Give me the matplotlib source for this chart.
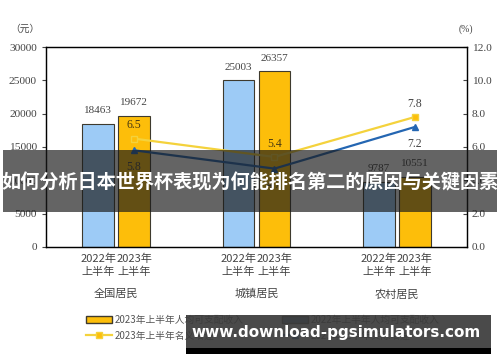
import numpy as np
import matplotlib.pyplot as plt
from matplotlib.patches import Rectangle, Patch
from matplotlib.lines import Line2D

plt.rcParams['font.family'] = ['Liberation Serif', 'Noto Sans CJK SC']

groups = ['全国居民', '城镇居民', '农村居民']
income_2022 = [18463, 25003, 9787]
income_2023 = [19672, 26357, 10551]
nominal_growth = [6.5, 5.4, 7.8]
real_growth = [5.8, 4.7, 7.2]
year_labels = ['2022年\n上半年', '2023年\n上半年']
legend_labels = ['2023年上半年人均可支配收入', '2022年上半年人均可支配收入',
                 '2023年上半年名义增速', '2023年上半年实际增速']
banner_title = '如何分析日本世界杯表现为何能排名第二的原因与关键因素'
watermark = 'www.download-pgsimulators.com'

c_blue = '#9DCBF6'
c_orange = '#FDBE0A'
c_edge = '#3E3A2E'
c_yellow = '#F4D23C'
c_line = '#2466B2'
c_text = '#444444'
cjk = ['Noto Sans CJK SC', 'DejaVu Sans']

fig = plt.figure(figsize=(5, 3.62), dpi=100)
ax = fig.add_axes([0.092, 0.318, 0.842, 0.552])
x = np.arange(len(groups))
w = 0.225
off = 0.128

b1 = ax.bar(x - off, income_2022, w, color=c_blue, edgecolor=c_edge, linewidth=0.8)
b2 = ax.bar(x + off, income_2023, w, color=c_orange, edgecolor=c_edge, linewidth=0.8)
for bars, vals in [(b1, income_2022), (b2, income_2023)]:
    for r, v in zip(bars, vals):
        ax.text(r.get_x() + r.get_width() / 2, v + 1300, str(v), ha='center',
                va='bottom', fontsize=8, color=c_text)

ax.set_xlim(-0.5, 2.5)
ax.set_ylim(0, 30000)
ax.set_yticks(np.arange(0, 30001, 5000))
ax.tick_params(axis='y', labelsize=8.2, length=3, colors=c_text, direction='out')
ax.set_xticks([])
for s in ax.spines.values():
    s.set_linewidth(1.0)
    s.set_color('#222222')

ax2 = ax.twinx()
ax2.set_ylim(0, 12)
ax2.set_yticks(np.arange(0, 12.1, 2))
ax2.set_yticklabels(['%.1f' % t for t in np.arange(0, 12.1, 2)])
ax2.tick_params(axis='y', labelsize=8.2, length=3, colors=c_text, direction='in')
ax2.plot(x + off, nominal_growth, color=c_yellow, lw=1.6, marker='s', ms=5,
         mfc=c_orange, mec=c_yellow)
ax2.plot(x + off, real_growth, color=c_line, lw=1.6, marker='^', ms=5)
for xi, v in zip(x + off, nominal_growth):
    ax2.text(xi, v + 0.8, '%.1f' % v, ha='center', va='center', fontsize=8.5,
             color='#4a3a10' if xi < 2 else c_text)
for xi, v in zip(x + off, real_growth):
    ax2.text(xi, v - 1.0, '%.1f' % v, ha='center', va='center', fontsize=8.5, color=c_text)

for xi in x:
    for dx, lab in zip([-off, off], year_labels):
        ax.text(xi + dx, -1000, lab, ha='center', va='top', fontsize=8,
                family=cjk, color=c_text, linespacing=1.3)
    ax.text(xi, -6300, groups[xi], ha='center', va='top', fontsize=8,
            family=cjk, color=c_text)

fig.text(0.05, 0.912, '（元）', fontsize=7, family=cjk, color=c_text, ha='center')
fig.text(0.932, 0.912, '(%)', fontsize=7, color=c_text, ha='center')

handles = [Patch(facecolor=c_orange, edgecolor=c_edge),
           Line2D([], [], color=c_yellow, lw=1.6, marker='s', mfc=c_orange, mec=c_yellow, ms=5),
           Patch(facecolor='#5d7fa6', edgecolor=c_edge),
           Line2D([], [], color=c_line, lw=1.6, marker='^', ms=5)]
labels = [legend_labels[0], legend_labels[2], legend_labels[1], legend_labels[3]]
leg = fig.legend(handles, labels, loc='lower left', bbox_to_anchor=(0.155, 0.035),
                 ncol=2, frameon=False, prop={'family': cjk, 'size': 7},
                 handlelength=2.6, handleheight=0.7, handletextpad=0.3,
                 columnspacing=4.0, labelspacing=0.55)
for t in leg.get_texts():
    t.set_color('#555555')

# overlay banner and watermark
fig.patches.append(Rectangle((0.006, 1 - 212 / 362), 0.988, 62 / 362,
                             transform=fig.transFigure, facecolor='#1a1a1a',
                             alpha=0.68, zorder=10))
fig.text(0.5, 1 - 183 / 362, banner_title, ha='center', va='center', fontsize=13.8,
         fontweight='bold', color='white', family=cjk, zorder=11)
fig.patches.append(Rectangle((186 / 500, 1 - 349 / 362), 305 / 500, 34 / 362,
                             transform=fig.transFigure, facecolor='#3a3a3a',
                             alpha=0.92, zorder=10))
fig.patches.append(Rectangle((186 / 500, 1 - 354 / 362), 305 / 500, 6 / 362,
                             transform=fig.transFigure, facecolor='black', zorder=10))
fig.text(336 / 500, 1 - 332 / 362, watermark, ha='center', va='center', fontsize=11,
         fontweight='bold', color='white', family='DejaVu Sans', zorder=11)

fig.savefig('out.png', dpi=100)
